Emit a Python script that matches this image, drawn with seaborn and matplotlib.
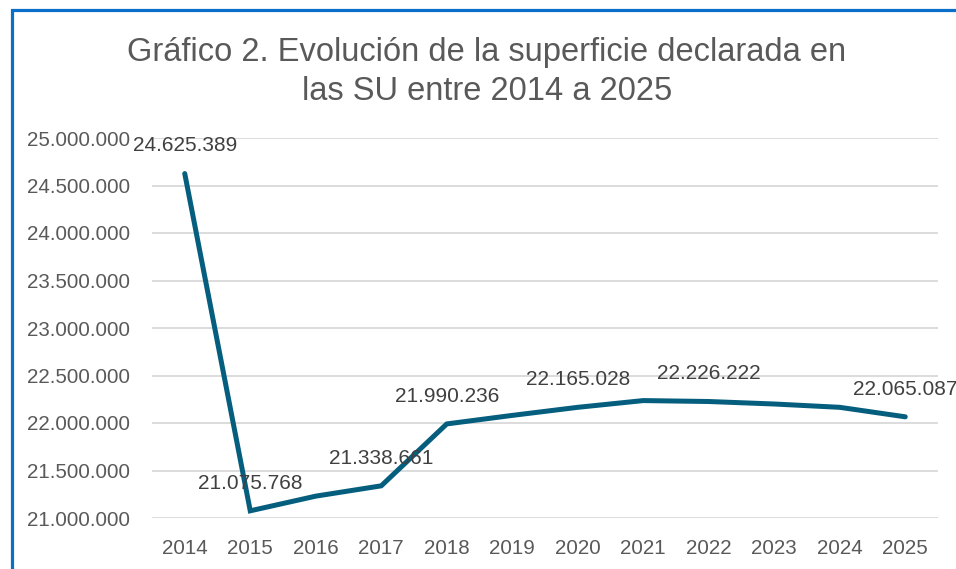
import matplotlib
matplotlib.use("Agg")
import matplotlib.pyplot as plt
import matplotlib.patches as mpatches
from matplotlib.ticker import FuncFormatter
import seaborn as sns
import pandas as pd

years = [2014, 2015, 2016, 2017, 2018, 2019, 2020, 2021, 2022, 2023, 2024, 2025]
superficie = [24625389, 21075768, 21230000, 21338661, 21990236, 22080000,
              22165028, 22236000, 22226222, 22200000, 22165000, 22065087]
labeled_years = [2014, 2015, 2017, 2018, 2020, 2022, 2025]
title = "Gráfico 2. Evolución de la superficie declarada en\nlas SU entre 2014 a 2025"

sns.set_style("white")
plt.rcParams['font.family'] = ['Liberation Sans', 'DejaVu Sans']

df = pd.DataFrame({"year": years, "sup": superficie})

fig = plt.figure(figsize=(9.56, 5.69), dpi=100)
ax = fig.add_axes([152/956, 1-518/569, (938-152)/956, (518-138)/569])

sns.lineplot(data=df, x="year", y="sup", ax=ax, color="#055E7E", linewidth=3.6,
             solid_joinstyle="miter")

ax.set_xlim(2013.5, 2025.5)
ax.set_ylim(21000000, 25000000)
ax.set_yticks(range(21000000, 25000001, 500000))
ax.set_xticks(years)

def fmt(v):
    return f"{int(round(v)):,}".replace(",", ".")

ax.yaxis.set_major_formatter(FuncFormatter(lambda v, p: fmt(v)))
ax.grid(axis="y", color="#D9D9D9", linewidth=1.3)
ax.set_axisbelow(True)
for s in ax.spines.values():
    s.set_visible(False)
ax.tick_params(axis="both", length=0, labelsize=14.8, colors="#595959")
ax.tick_params(axis="y", pad=16)
ax.tick_params(axis="x", pad=15)
ax.set_xlabel("")
ax.set_ylabel("")

for y, v in zip(years, superficie):
    if y in labeled_years:
        ax.annotate(fmt(v), (y, v), xytext=(0, 20), textcoords="offset points",
                    ha="center", va="center", fontsize=15, color="#404040",
                    annotation_clip=False)

fig.text(487/956, 1-72/569, title, ha="center", va="center", fontsize=23.5,
         color="#595959", linespacing=1.3)

rect = mpatches.Rectangle((12/956, -0.2), 1.5, 0.2 + 1-9.5/569, transform=fig.transFigure,
                          fill=False, edgecolor="#0A6FC8", linewidth=2.3, clip_on=False)
fig.patches.append(rect)

fig.savefig("out.png", dpi=100)
